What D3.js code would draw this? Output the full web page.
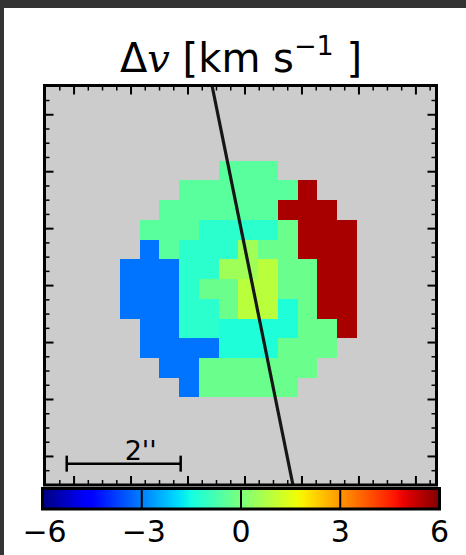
<!DOCTYPE html>
<html>
<head>
<meta charset="utf-8">
<script src="https://cdn.jsdelivr.net/npm/d3@7"></script>
<style>
  body { margin: 0; background: #fff; }
  text { font-family: "DejaVu Sans", sans-serif; }
</style>
</head>
<body>
<div id="chart"></div>
<script>
// velocity map values (km/s), 12 x 12 spaxels, null = masked
const B = -3.15, A = -0.49, Cy = -1.19, Cy2 = -1.36, G = -0.25, C = 0.53, D = 0.92, R = 5.58, _ = null;
const velGrid = [
  [_, _, _, _, _, A, A, A, _, _, _, _],
  [_, _, _, A, A, A, A, A, A, R, _, _],
  [_, _, A, A, A, A, A, A, R, R, R, _],
  [_, A, A, A, Cy, Cy, Cy, Cy, G, R, R, R],
  [_, B, A, Cy, Cy, Cy, C, G, G, R, R, R],
  [B, B, B, Cy, Cy, C, C, D, G, G, R, R],
  [B, B, B, Cy, G, G, D, D, G, G, R, R],
  [B, B, B, Cy, Cy, G, D, D, Cy2, G, R, R],
  [_, B, B, Cy, Cy, Cy2, Cy2, Cy2, Cy2, G, G, R],
  [_, B, B, B, B, Cy2, Cy2, Cy2, G, G, G, _],
  [_, _, B, B, G, G, G, G, G, G, _, _],
  [_, _, _, B, G, G, G, G, G, _, _, _]
];
// spaxel grid in arcsec: top-left corner and size
const gridOrigin = [-2.185, 2.185];
const spaxel = 0.3465;

// axis extents (arcsec) and ticks
const xDomain = [-3.51, 3.37];
const yDomain = [-3.51, 3.505];
const majorTicks = [-3, -2, -1, 0, 1, 2, 3];
const minorStep = 0.25;

// colour bar
const cbDomain = [-6, 6];
const cbTicks = [-6, -3, 0, 3, 6];

// slit: passes through centre point, dx per unit dy
const slitCenter = [0.14, 0];
const slitSlope = -0.2025;

// scale bar
const scaleBar = { x0: -3.12, length: 2, y: -3.135, label: "2''" };

const W = 466, H = 555;
const plot = { left: 44.5, right: 436.5, top: 85.5, bottom: 485 };
const cb = { left: 42.5, right: 439.5, top: 488.5, bottom: 509 };

const svg = d3.select("#chart")
  .append("svg")
    .attr("width", W)
    .attr("height", H);

svg.append("rect").attr("width", W).attr("height", H).attr("fill", "#fff");
// dark window edges
svg.append("rect").attr("x", 0).attr("y", 0).attr("width", W).attr("height", 8).attr("fill", "#333");
svg.append("rect").attr("x", 0).attr("y", 0).attr("width", 4).attr("height", H).attr("fill", "#333");

const x = d3.scaleLinear().domain(xDomain).range([plot.left, plot.right]);
const y = d3.scaleLinear().domain(yDomain).range([plot.bottom, plot.top]);

// jet colormap built from linear scales
const jr = d3.scaleLinear().domain([0, 0.35, 0.66, 0.89, 1]).range([0, 0, 1, 1, 0.5]).clamp(true);
const jg = d3.scaleLinear().domain([0, 0.125, 0.375, 0.64, 0.91, 1]).range([0, 0, 1, 1, 0, 0]).clamp(true);
const jb = d3.scaleLinear().domain([0, 0.11, 0.34, 0.65, 1]).range([0.5, 1, 1, 0, 0]).clamp(true);
const norm = d3.scaleLinear().domain(cbDomain).range([0, 1]).clamp(true);
function jet(v) {
  const t = norm(v);
  return d3.rgb(jr(t) * 255, jg(t) * 255, jb(t) * 255).formatHex();
}

const defs = svg.append("defs");
defs.append("clipPath").attr("id", "clip")
  .append("rect")
    .attr("x", plot.left).attr("y", plot.top)
    .attr("width", plot.right - plot.left).attr("height", plot.bottom - plot.top);

// background
svg.append("rect")
  .attr("x", plot.left).attr("y", plot.top)
  .attr("width", plot.right - plot.left).attr("height", plot.bottom - plot.top)
  .attr("fill", "#cccccc");

// spaxels
const cells = [];
velGrid.forEach((row, r) => row.forEach((v, c) => { if (v !== null) cells.push({ r, c, v }); }));

const px0 = d => Math.round(x(gridOrigin[0] + d.c * spaxel));
const px1 = d => Math.round(x(gridOrigin[0] + (d.c + 1) * spaxel));
const py0 = d => Math.round(y(gridOrigin[1] - d.r * spaxel));
const py1 = d => Math.round(y(gridOrigin[1] - (d.r + 1) * spaxel));

svg.append("g").attr("clip-path", "url(#clip)")
  .attr("shape-rendering", "crispEdges")
  .selectAll("rect")
  .data(cells)
  .join("rect")
    .attr("x", px0)
    .attr("y", py0)
    .attr("width", d => px1(d) - px0(d))
    .attr("height", d => py1(d) - py0(d))
    .attr("fill", d => jet(d.v));

// slit line
svg.append("line")
  .attr("clip-path", "url(#clip)")
  .attr("x1", x(slitCenter[0] + slitSlope * (yDomain[1] - slitCenter[1])))
  .attr("y1", y(yDomain[1]))
  .attr("x2", x(slitCenter[0] + slitSlope * (yDomain[0] - slitCenter[1])))
  .attr("y2", y(yDomain[0]))
  .attr("stroke", "#161616")
  .attr("stroke-width", 3.2);

// scale bar
const sb = svg.append("g");
const sbx0 = x(scaleBar.x0), sbx1 = x(scaleBar.x0 + scaleBar.length), sby = y(scaleBar.y);
sb.append("line").attr("x1", sbx0).attr("x2", sbx1).attr("y1", sby).attr("y2", sby)
  .attr("stroke", "#000").attr("stroke-width", 2.5);
[sbx0, sbx1].forEach(px => sb.append("line")
  .attr("x1", px).attr("x2", px).attr("y1", sby - 8).attr("y2", sby + 8)
  .attr("stroke", "#000").attr("stroke-width", 2.5));
sb.append("text")
  .attr("x", (sbx0 + sbx1) / 2 + 17)
  .attr("y", sby - 4)
  .attr("text-anchor", "middle")
  .attr("font-size", 27)
  .text(scaleBar.label);

// ticks
function minorTicks(dom) {
  const out = [];
  for (let v = Math.ceil(dom[0] / minorStep) * minorStep; v <= dom[1]; v += minorStep) {
    const t = +v.toFixed(2);
    if (!majorTicks.includes(t) && Math.abs(t - dom[0]) > 0.05 && Math.abs(t - dom[1]) > 0.05) out.push(t);
  }
  return out;
}
function addTicks(axisFn, scale, dom, tr) {
  [[majorTicks, 9, 2], [minorTicks(dom), 5, 1.5]].forEach(([vals, len, w]) => {
    const g = svg.append("g")
      .attr("transform", tr)
      .call(axisFn(scale).tickValues(vals).tickSizeInner(-len).tickSizeOuter(0).tickFormat(""));
    g.select(".domain").remove();
    g.selectAll("line").attr("stroke", "#000").attr("stroke-width", w);
  });
}
addTicks(d3.axisTop, x, xDomain, `translate(0,${plot.top})`);
addTicks(d3.axisBottom, x, xDomain, `translate(0,${plot.bottom})`);
addTicks(d3.axisLeft, y, yDomain, `translate(${plot.left},0)`);
addTicks(d3.axisRight, y, yDomain, `translate(${plot.right},0)`);

// frame
svg.append("rect")
  .attr("x", plot.left).attr("y", plot.top)
  .attr("width", plot.right - plot.left).attr("height", plot.bottom - plot.top)
  .attr("fill", "none").attr("stroke", "#000").attr("stroke-width", 3);

// title
const title = svg.append("text")
  .attr("x", 241).attr("y", 72)
  .attr("text-anchor", "middle")
  .attr("font-size", 40);
title.append("tspan").text("Δ");
title.append("tspan").attr("font-style", "italic").attr("font-family", "DejaVu Serif").text("v");
title.append("tspan").text(" [km s");
title.append("tspan").attr("font-size", 27).attr("dy", -17).text("−1");
title.append("tspan").attr("dy", 17).text(" ]");

// colour bar
const cbx = d3.scaleLinear().domain(cbDomain).range([cb.left, cb.right]);
const grad = defs.append("linearGradient").attr("id", "jet")
  .attr("x1", "0%").attr("x2", "100%").attr("y1", "0%").attr("y2", "0%");
d3.range(0, 65).forEach(i => {
  const v = cbDomain[0] + (cbDomain[1] - cbDomain[0]) * i / 64;
  grad.append("stop").attr("offset", `${(i / 64) * 100}%`).attr("stop-color", jet(v));
});
svg.append("rect")
  .attr("x", cb.left).attr("y", cb.top)
  .attr("width", cb.right - cb.left).attr("height", cb.bottom - cb.top)
  .attr("fill", "url(#jet)")
  .attr("stroke", "#000").attr("stroke-width", 3);
svg.append("g").selectAll("line")
  .data(cbTicks.slice(1, -1))
  .join("line")
    .attr("x1", d => cbx(d)).attr("x2", d => cbx(d))
    .attr("y1", cb.top).attr("y2", cb.bottom)
    .attr("stroke", "#000").attr("stroke-width", 2);
svg.append("g").selectAll("text")
  .data(cbTicks)
  .join("text")
    .attr("x", d => cbx(d) + (d < 0 ? 2 : 0))
    .attr("y", 542)
    .attr("text-anchor", "middle")
    .attr("font-size", 30)
    .text(d => d < 0 ? "−" + Math.abs(d) : d);
</script>
</body>
</html>
